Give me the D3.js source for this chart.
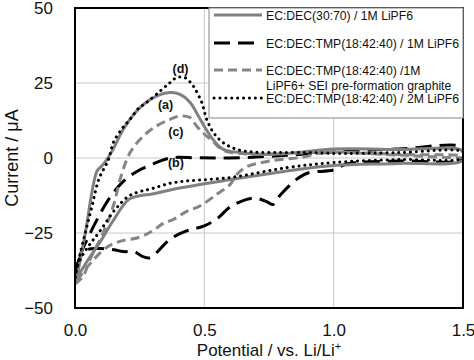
<!DOCTYPE html>
<html><head><meta charset="utf-8">
<script src="https://cdn.jsdelivr.net/npm/d3@7/dist/d3.min.js"></script>
<style>body{margin:0;background:#fff}svg{display:block}</style>
</head><body><svg id="c" width="474" height="360"></svg>
<script>
// Data: [potential V, current µA]
const seriesNames = ["EC:DEC(30:70) / 1M LiPF6", "EC:DEC:TMP(18:42:40) / 1M LiPF6",
  ["EC:DEC:TMP(18:42:40) /1M", "LiPF6+ SEI pre-formation graphite"], "EC:DEC:TMP(18:42:40) / 2M LiPF6"];
const curveA = [[0,-41],[0.008,-39],[0.039,-25.4],[0.085,-4.4],[0.103,-2.7],[0.116,-1.4],[0.147,2.9],[0.187,9.6],[0.239,15.7],[0.303,20.1],[0.367,21.8],[0.406,21.2],[0.445,18.5],[0.477,14],[0.503,10.1],[0.533,6.2],[0.573,2.9],[0.638,1.8],[0.727,1.2],[0.857,1.8],[1.0,3.0],[1.25,2.8],[1.5,2.3],
  [1.5,-0.8],[1.25,-1.8],[1.0,-2.5],[0.818,-4.3],[0.69,-6],[0.6,-7.2],[0.38,-10.4],[0.298,-12],[0.251,-12.6],[0.208,-13.8],[0.143,-21.5],[0.097,-28],[0.05,-34],[0,-41]];
const curveB = [[0,-40],[0.014,-33.8],[0.066,-23.8],[0.13,-13.8],[0.182,-8.2],[0.239,-4.5],[0.298,-2.1],[0.367,0],[0.47,0.1],[0.6,0],[0.8,0.8],[1.0,2],[1.25,3],[1.5,3.5],
  [1.5,-0.3],[1.25,-1],[1.05,-2],[1.0,-4],[0.9,-5],[0.857,-7.1],[0.792,-12.5],[0.765,-15.5],[0.74,-14.5],[0.7,-13.4],[0.664,-13.8],[0.6,-16.3],[0.55,-20.2],[0.5,-22.6],[0.432,-24.3],[0.367,-27.1],[0.316,-31.5],[0.29,-33.3],[0.26,-32.8],[0.23,-31.2],[0.187,-31.2],[0.15,-30.6],[0.1,-30.2],[0.05,-30.5],[0.02,-33],[0,-40]];
const curveC = [[0,-42],[0.032,-39.3],[0.058,-33.8],[0.109,-24.9],[0.148,-16],[0.18,-5.5],[0.213,1.8],[0.264,7.3],[0.316,10.7],[0.367,12.9],[0.406,14],[0.445,13.5],[0.47,10.7],[0.5,8],[0.533,5.5],[0.573,2.6],[0.64,1.5],[0.75,1.3],[0.9,1.8],[1.0,2],[1.25,1.2],[1.5,0.6],
  [1.5,0.3],[1.25,1.0],[0.96,1.8],[0.882,0.3],[0.754,-1],[0.664,-2.9],[0.625,-5.5],[0.6,-8.8],[0.548,-12.1],[0.483,-16],[0.432,-17.8],[0.38,-20.5],[0.341,-21.8],[0.298,-24.4],[0.246,-26.5],[0.174,-27.8],[0.122,-29.8],[0.04,-37.1],[0,-42]];
const curveD = [[0,-40],[0.014,-34],[0.04,-24.9],[0.066,-16],[0.092,-7.1],[0.13,-0.4],[0.148,5.1],[0.182,9.8],[0.213,12.9],[0.246,16.6],[0.277,18.5],[0.329,22.3],[0.367,25.1],[0.393,26.8],[0.425,26.8],[0.457,24],[0.49,18.5],[0.509,12.9],[0.535,8.5],[0.573,5.1],[0.625,2.9],[0.689,2],[0.792,1.8],[0.921,1.8],[1.0,1.5],[1.25,1.8],[1.5,2.0],
  [1.5,0],[1.25,-0.5],[1.0,-1.5],[0.82,-3.2],[0.6,-6.5],[0.38,-8.2],[0.298,-10.2],[0.251,-11.2],[0.208,-12.7],[0.156,-17.1],[0.092,-24.9],[0.053,-29.3],[0.014,-34.9],[0,-40]];
const xTicks = [0.0, 0.5, 1.0, 1.5];
const yTicks = [-50, -25, 0, 25, 50];
const labels = [["(d)", 0.408, 28.5], ["(a)", 0.35, 16.5], ["(c)", 0.39, 7.5], ["(b)", 0.39, -3]];

const svg = d3.select("#c");
const L = 75, R = 463, T = 8, B = 308;
const x = d3.scaleLinear().domain([0, 1.5]).range([L, R]);
const y = d3.scaleLinear().domain([-50, 50]).range([B, T]);
const font = "Liberation Sans, Arial, sans-serif";

// grid
svg.append("g").selectAll("line.v").data([0.5, 1.0]).join("line")
  .attr("x1", d => x(d)).attr("x2", d => x(d)).attr("y1", T).attr("y2", B)
  .attr("stroke", "#c8c8c8").attr("stroke-width", 1);
svg.append("g").selectAll("line.h").data([-25, 0, 25]).join("line")
  .attr("x1", L).attr("x2", R).attr("y1", d => y(d)).attr("y2", d => y(d))
  .attr("stroke", "#c8c8c8").attr("stroke-width", 1);

// tick labels via axes
const gx = svg.append("g").attr("transform", `translate(0,${B})`)
  .call(d3.axisBottom(x).tickValues(xTicks).tickFormat(d3.format(".1f")).tickSize(0).tickPadding(16));
const gy = svg.append("g").attr("transform", `translate(${L},0)`)
  .call(d3.axisLeft(y).tickValues(yTicks).tickFormat(d3.format("d")).tickSize(0).tickPadding(22));
[gx, gy].forEach(g => { g.select(".domain").remove();
  g.selectAll("text").attr("font-family", font).attr("font-size", 17).attr("fill", "#111"); });

svg.append("defs").append("clipPath").attr("id", "clip").append("rect")
  .attr("x", L).attr("y", T).attr("width", R - L).attr("height", B - T);

const line = d3.line().x(d => x(d[0])).y(d => y(d[1])).curve(d3.curveCatmullRom.alpha(0.5));
const styles = [
  {data: curveA, color: "#808080", dash: null, cap: "butt"},
  {data: curveB, color: "#000", dash: "16,8", cap: "butt"},
  {data: curveC, color: "#858585", dash: "9,5", cap: "butt"},
  {data: curveD, color: "#000", dash: "0.1,5.8", cap: "round"}
];
const plot = svg.append("g").attr("clip-path", "url(#clip)");
// draw order: b, c, a, d
[1, 2, 0, 3].forEach(i => {
  const s = styles[i];
  plot.append("path").attr("d", line(s.data)).attr("fill", "none")
    .attr("stroke", s.color).attr("stroke-width", 3)
    .attr("stroke-dasharray", s.dash).attr("stroke-linecap", s.cap).attr("stroke-linejoin", "round");
});

// curve labels
svg.append("g").selectAll("text").data(labels).join("text")
  .attr("x", d => x(d[1])).attr("y", d => y(d[2])).attr("text-anchor", "middle")
  .attr("font-family", font).attr("font-weight", "bold").attr("font-size", 12.5).attr("fill", "#111")
  .text(d => d[0]);

// frame
svg.append("rect").attr("x", L).attr("y", T).attr("width", R - L).attr("height", B - T)
  .attr("fill", "none").attr("stroke", "#000").attr("stroke-width", 2);

// legend
const lg = svg.append("g");
lg.append("rect").attr("x", 209).attr("y", T).attr("width", R - 209).attr("height", 110)
  .attr("fill", "#fff").attr("stroke", "#999").attr("stroke-width", 1.2);
const rowY = [15, 43, 70, 98];
styles.forEach((s, i) => {
  lg.append("line").attr("x1", 214).attr("x2", 262).attr("y1", rowY[i]).attr("y2", rowY[i])
    .attr("stroke", s.color).attr("stroke-width", 3).attr("stroke-dasharray", s.dash).attr("stroke-linecap", s.cap);
  const t = lg.append("text").attr("x", 266).attr("y", rowY[i] + 4.5)
    .attr("font-family", font).attr("font-size", 12.2).attr("fill", "#111");
  const name = seriesNames[i];
  if (Array.isArray(name)) {
    name.forEach((n, k) => t.append("tspan").attr("x", 266).attr("dy", k === 0 ? 0 : 15).text(n));
  } else t.text(name);
});

// axis titles
svg.append("text").attr("x", (L + R) / 2).attr("y", 356).attr("text-anchor", "middle")
  .attr("font-family", font).attr("font-size", 17).attr("fill", "#111")
  .html("Potential / vs. Li/Li<tspan baseline-shift='super' font-size='11'>+</tspan>");
svg.append("text").attr("transform", `translate(18,${(T + B) / 2}) rotate(-90)`).attr("text-anchor", "middle")
  .attr("font-family", font).attr("font-size", 18).attr("fill", "#111").text("Current / μA");
</script></body></html>
